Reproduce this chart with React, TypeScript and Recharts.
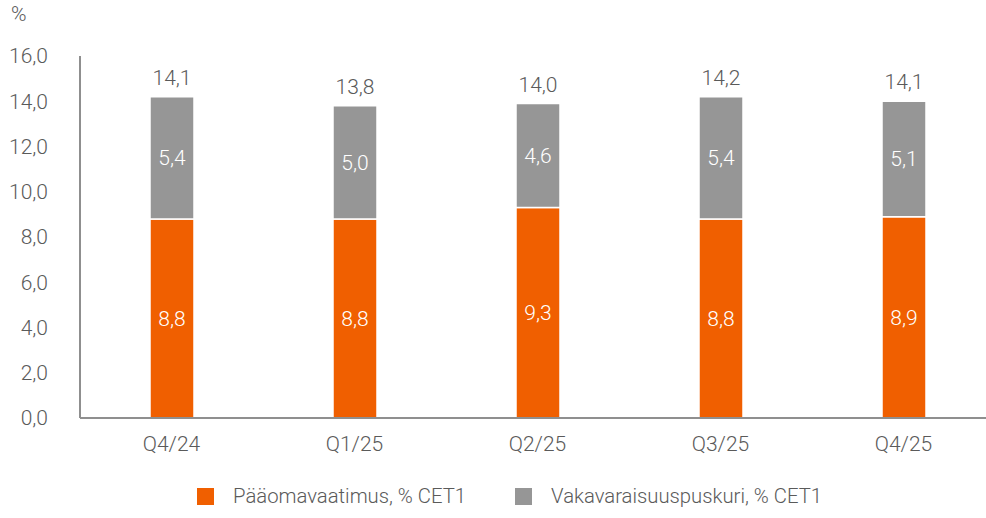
import { BarChart, Bar, XAxis, YAxis, LabelList } from 'recharts';

const quarters = ['Q4/24', 'Q1/25', 'Q2/25', 'Q3/25', 'Q4/25'];
const requirement = [8.8, 8.8, 9.3, 8.8, 8.9];
const buffer = [5.4, 5.0, 4.6, 5.4, 5.1];
const totals = [14.1, 13.8, 14.0, 14.2, 14.1];
const yTicks = [0, 2, 4, 6, 8, 10, 12, 14, 16];

const seriesNames = ['Pääomavaatimus, % CET1', 'Vakavaraisuuspuskuri, % CET1'];
const COLORS = ['#F05F00', '#969696'];

const data = quarters.map((q, i) => ({
    name: q,
    requirement: requirement[i],
    buffer: buffer[i],
    total: totals[i],
}));

const fmt = (v: any) => Number(v).toFixed(1).replace('.', ',');
const FONT = 'Roboto, "Noto Sans", sans-serif';
const TEXT = '#5a5a5a';
const FS = 21;

export default function App() {
    return (
        <div style={{ position: 'absolute', left: 0, top: 0, width: 986, height: 518, overflow: 'hidden', background: '#fff', fontFamily: FONT, fontWeight: 300 }}>
            <div style={{ position: 'absolute', left: 11, top: 2, fontSize: 21, color: TEXT }}>%</div>
            <BarChart width={1000} height={518} data={data} margin={{ top: 56, right: 5, left: 0, bottom: 0 }}>
                <XAxis
                    dataKey="name"
                    height={100}
                    axisLine={{ stroke: '#8f8f8f', strokeWidth: 2 }}
                    tickLine={false}
                    tickMargin={12}
                    tick={{ fill: TEXT, fontSize: FS, fontFamily: FONT, fontWeight: 300 }}
                />
                <YAxis
                    width={80}
                    domain={[0, 16]}
                    ticks={yTicks}
                    tickFormatter={fmt}
                    axisLine={{ stroke: '#8f8f8f', strokeWidth: 2 }}
                    tickLine={false}
                    tickSize={0}
                    tickMargin={32}
                    tick={{ fill: TEXT, fontSize: FS, fontFamily: FONT, fontWeight: 300 }}
                />
                <Bar dataKey="requirement" stackId="a" fill={COLORS[0]} barSize={44} stroke="#fff" strokeWidth={1.5} isAnimationActive={false}>
                    <LabelList dataKey="requirement" position="center" formatter={fmt} fill="#fff" fontSize={FS} fontFamily={FONT} fontWeight={300} />
                </Bar>
                <Bar dataKey="buffer" stackId="a" fill={COLORS[1]} barSize={44} stroke="#fff" strokeWidth={1.5} isAnimationActive={false}>
                    <LabelList dataKey="buffer" position="center" formatter={fmt} fill="#fff" fontSize={FS} fontFamily={FONT} fontWeight={300} />
                    <LabelList dataKey="total" position="top" offset={12} formatter={fmt} fill={TEXT} fontSize={FS} fontFamily={FONT} fontWeight={300} />
                </Bar>
            </BarChart>
            <div style={{ position: 'absolute', left: 197, top: 484, display: 'flex', alignItems: 'center', fontSize: 20.3, color: TEXT }}>
                {seriesNames.map((name, i) => (
                    <div key={name} style={{ display: 'flex', alignItems: 'center', marginRight: 49 }}>
                        <div style={{ width: 17, height: 17, background: COLORS[i], marginRight: 19 }} />
                        <span>{name}</span>
                    </div>
                ))}
            </div>
        </div>
    );
}
